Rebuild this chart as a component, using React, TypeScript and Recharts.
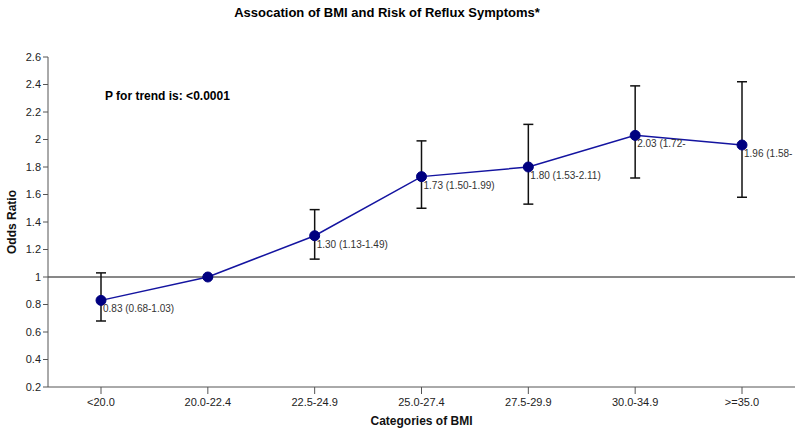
import { LineChart, Line, XAxis, YAxis, ErrorBar, ReferenceLine, LabelList } from "recharts";

const categories = ["<20.0", "20.0-22.4", "22.5-24.9", "25.0-27.4", "27.5-29.9", "30.0-34.9", ">=35.0"];
const oddsRatios = [0.83, 1.0, 1.3, 1.73, 1.8, 2.03, 1.96];
const ciLow = [0.68, null, 1.13, 1.5, 1.53, 1.72, 1.58];
const ciHigh = [1.03, null, 1.49, 1.99, 2.11, 2.39, 2.42];
const pointLabels = [
  "0.83 (0.68-1.03)",
  "",
  "1.30 (1.13-1.49)",
  "1.73 (1.50-1.99)",
  "1.80 (1.53-2.11)",
  "2.03 (1.72-",
  "1.96 (1.58-",
];
const yTicks = [0.2, 0.4, 0.6, 0.8, 1, 1.2, 1.4, 1.6, 1.8, 2, 2.2, 2.4, 2.6];

const data = categories.map((c, i) => {
  const lo = ciLow[i];
  const hi = ciHigh[i];
  return {
    category: c,
    or: oddsRatios[i],
    err: lo == null || hi == null ? [0, 0] : [oddsRatios[i] - lo, hi - oddsRatios[i]],
    label: pointLabels[i],
  };
});

const FONT = "Arial, 'Liberation Sans', sans-serif";

const PointLabel = (props: any) => {
  const { x, y, value } = props;
  if (!value) return null;
  return (
    <text x={x + 2} y={y + 12} fontSize={10} fontFamily={FONT} fill="#333">
      {value}
    </text>
  );
};

export default function App() {
  return (
    <div style={{ position: "absolute", left: 0, top: 0, width: 800, height: 433, background: "#fff" }}>
      <div
        style={{
          position: "absolute",
          top: 5,
          left: 0,
          width: 774,
          textAlign: "center",
          fontFamily: FONT,
          fontWeight: "bold",
          fontSize: 13,
        }}
      >
        Assocation of BMI and Risk of Reflux Symptoms*
      </div>
      <div
        style={{
          position: "absolute",
          top: 89,
          left: 105,
          fontFamily: FONT,
          fontWeight: "bold",
          fontSize: 12,
        }}
      >
        P for trend is: &lt;0.0001
      </div>
      <LineChart width={800} height={433} data={data} margin={{ top: 57, right: 5, bottom: 0, left: 0 }}>
        <XAxis
          dataKey="category"
          padding={{ left: 53, right: 53 }}
          tickSize={7}
          tickMargin={4}
          stroke="#555"
          tick={{ fontSize: 11, fontFamily: FONT, fill: "#222" }}
          height={46}
          label={{
            value: "Categories of BMI",
            position: "insideBottom",
            offset: 8,
            style: { fontSize: 12, fontWeight: "bold", fontFamily: FONT, fill: "#111" },
          }}
        />
        <YAxis
          domain={[0.2, 2.6]}
          ticks={yTicks}
          width={48}
          tickSize={5}
          stroke="#555"
          interval={0}
          tick={{ fontSize: 11, fontFamily: FONT, fill: "#222" }}
          label={{
            value: "Odds Ratio",
            angle: -90,
            position: "insideLeft",
            offset: 12,
            style: { textAnchor: "middle", fontSize: 12, fontWeight: "bold", fontFamily: FONT, fill: "#111" },
          }}
        />
        <ReferenceLine y={1} stroke="#111" strokeWidth={1} />
        <Line
          dataKey="or"
          stroke="#1414a0"
          strokeWidth={1.5}
          dot={{ r: 5, fill: "#000080", stroke: "#000080", strokeWidth: 1 }}
          isAnimationActive={false}
        >
          <ErrorBar dataKey="err" width={5} stroke="#111" strokeWidth={1.5} direction="y" />
          <LabelList dataKey="label" content={PointLabel} />
        </Line>
      </LineChart>
    </div>
  );
}
